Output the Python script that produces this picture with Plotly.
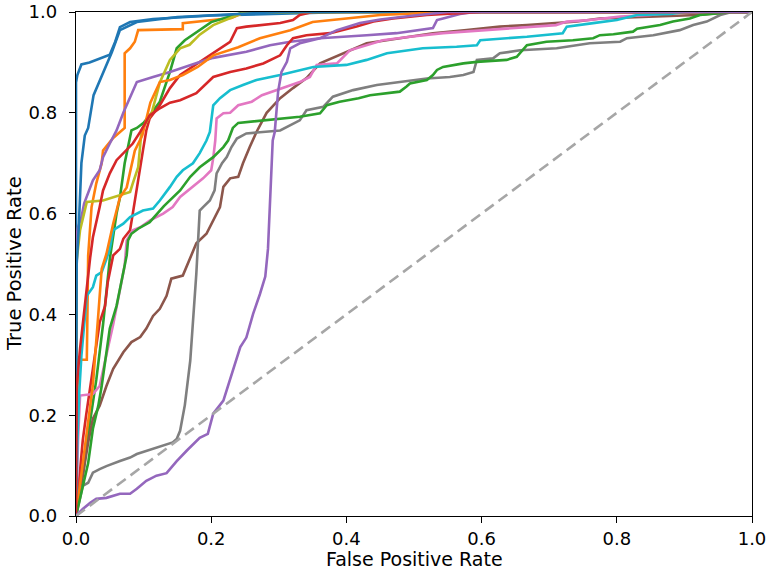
import plotly.graph_objects as go

# ---- data (FPR, TPR) ----
blue_a_fpr = [0, 0, 0.002, 0.005, 0.008, 0.02, 0.04, 0.05, 0.058, 0.065, 0.08, 0.114, 0.2, 0.4, 1.0]
blue_a_tpr = [0, 0.86, 0.875, 0.885, 0.896, 0.9, 0.909, 0.915, 0.941, 0.97, 0.98, 0.986, 0.993, 1.0, 1.0]

orange_a_fpr = [0, 0.002, 0.003, 0.016, 0.018, 0.023, 0.03, 0.038, 0.04, 0.055, 0.068, 0.072, 0.072, 0.08, 0.087, 0.092, 0.158, 0.158, 0.23, 0.25, 1.0]
orange_a_tpr = [0, 0.2, 0.31, 0.31, 0.517, 0.613, 0.66, 0.70, 0.725, 0.75, 0.765, 0.77, 0.918, 0.928, 0.941, 0.964, 0.966, 0.978, 0.988, 1.0, 1.0]

green_a_fpr = [0, 0.01, 0.02, 0.03, 0.04, 0.045, 0.05, 0.06, 0.065, 0.072, 0.082, 0.09, 0.1, 0.112, 0.124, 0.139, 0.149, 0.161, 0.18, 0.2, 0.25, 1.0]
green_a_tpr = [0, 0.08, 0.18, 0.27, 0.38, 0.45, 0.51, 0.6, 0.632, 0.70, 0.765, 0.77, 0.78, 0.80, 0.822, 0.881, 0.928, 0.944, 0.961, 0.98, 1.0, 1.0]

red_a_fpr = [0, 0.005, 0.01, 0.015, 0.021, 0.028, 0.035, 0.043, 0.047, 0.055, 0.065, 0.07, 0.08, 0.084, 0.09, 0.095, 0.099, 0.104, 0.109, 0.124, 0.139, 0.154, 0.183, 0.228, 0.238, 0.252, 0.302, 0.321, 0.331, 0.35, 1.0]
red_a_tpr = [0, 0.08, 0.15, 0.2, 0.258, 0.325, 0.384, 0.417, 0.464, 0.517, 0.53, 0.55, 0.567, 0.6, 0.653, 0.692, 0.725, 0.765, 0.789, 0.815, 0.849, 0.875, 0.901, 0.941, 0.968, 0.971, 0.978, 0.984, 0.994, 1.0, 1.0]

purple_a_fpr = [0, 0.01, 0.021, 0.03, 0.045, 0.065, 0.08, 0.09, 0.104, 0.119, 0.134, 0.149, 0.164, 0.183, 0.195, 0.203, 0.218, 0.228, 0.243, 0.252, 0.262, 0.272, 0.28, 0.284, 0.287, 0.289, 0.291, 0.294, 0.299, 0.304, 0.312, 0.317, 0.331, 0.361, 0.386, 0.42, 0.45, 0.5, 0.55, 1.0]
purple_a_tpr = [0, 0.014, 0.026, 0.034, 0.036, 0.044, 0.044, 0.054, 0.07, 0.08, 0.085, 0.109, 0.13, 0.155, 0.163, 0.203, 0.229, 0.27, 0.335, 0.354, 0.401, 0.44, 0.475, 0.53, 0.62, 0.712, 0.745, 0.762, 0.842, 0.881, 0.901, 0.928, 0.938, 0.948, 0.964, 0.978, 0.985, 0.993, 1.0, 1.0]

brown_fpr = [0, 0.003, 0.006, 0.01, 0.018, 0.025, 0.035, 0.045, 0.055, 0.07, 0.082, 0.095, 0.104, 0.114, 0.124, 0.134, 0.141, 0.158, 0.166, 0.178, 0.193, 0.203, 0.213, 0.218, 0.228, 0.24, 0.247, 0.257, 0.267, 0.282, 0.302, 0.321, 0.341, 0.361, 0.395, 0.43, 0.479, 0.528, 0.578, 0.627, 0.667, 0.741, 0.775, 0.85, 0.92, 0.97, 1.0]
brown_tpr = [0, 0.03, 0.06, 0.08, 0.146, 0.193, 0.219, 0.258, 0.292, 0.325, 0.345, 0.355, 0.372, 0.397, 0.411, 0.437, 0.471, 0.477, 0.504, 0.541, 0.56, 0.586, 0.613, 0.653, 0.67, 0.673, 0.70, 0.732, 0.762, 0.80, 0.829, 0.849, 0.869, 0.898, 0.918, 0.938, 0.948, 0.958, 0.964, 0.971, 0.974, 0.981, 0.987, 0.991, 0.994, 1.0, 1.0]

pink_fpr = [0, 0.003, 0.006, 0.025, 0.035, 0.04, 0.047, 0.055, 0.065, 0.072, 0.075, 0.084, 0.095, 0.109, 0.129, 0.143, 0.154, 0.173, 0.188, 0.2, 0.203, 0.206, 0.208, 0.218, 0.228, 0.24, 0.26, 0.275, 0.297, 0.317, 0.331, 0.346, 0.356, 0.386, 0.405, 0.454, 0.494, 0.543, 0.608, 0.676, 0.71, 0.726, 0.76, 0.805, 0.85, 0.88, 1.0]
pink_tpr = [0, 0.15, 0.239, 0.242, 0.258, 0.292, 0.332, 0.38, 0.451, 0.497, 0.547, 0.567, 0.573, 0.586, 0.6, 0.613, 0.633, 0.653, 0.67, 0.686, 0.71, 0.745, 0.789, 0.799, 0.80, 0.815, 0.822, 0.835, 0.845, 0.855, 0.861, 0.871, 0.895, 0.898, 0.924, 0.944, 0.951, 0.958, 0.964, 0.971, 0.974, 0.981, 0.984, 0.991, 0.994, 1.0, 1.0]

gray_fpr = [0, 0.01, 0.018, 0.025, 0.035, 0.045, 0.065, 0.08, 0.09, 0.104, 0.119, 0.134, 0.143, 0.149, 0.154, 0.161, 0.165, 0.169, 0.178, 0.183, 0.188, 0.198, 0.205, 0.208, 0.216, 0.223, 0.23, 0.238, 0.252, 0.277, 0.302, 0.331, 0.341, 0.366, 0.38, 0.41, 0.445, 0.479, 0.519, 0.553, 0.573, 0.588, 0.593, 0.617, 0.627, 0.657, 0.711, 0.76, 0.805, 0.815, 0.854, 0.893, 0.913, 0.933, 0.953, 0.97, 1.0]
gray_tpr = [0, 0.06, 0.066, 0.086, 0.093, 0.099, 0.109, 0.116, 0.123, 0.129, 0.136, 0.143, 0.146, 0.153, 0.169, 0.22, 0.26, 0.308, 0.481, 0.606, 0.613, 0.626, 0.646, 0.68, 0.70, 0.712, 0.732, 0.749, 0.759, 0.762, 0.765, 0.785, 0.805, 0.812, 0.832, 0.845, 0.855, 0.861, 0.868, 0.871, 0.875, 0.881, 0.905, 0.908, 0.918, 0.924, 0.928, 0.938, 0.941, 0.948, 0.954, 0.964, 0.974, 0.981, 0.994, 1.0, 1.0]

olive_fpr = [0, 0, 0.001, 0.006, 0.016, 0.04, 0.065, 0.08, 0.084, 0.092, 0.097, 0.112, 0.124, 0.132, 0.139, 0.154, 0.168, 0.183, 0.203, 0.232, 0.25, 1.0]
olive_tpr = [0, 0.45, 0.507, 0.567, 0.623, 0.626, 0.636, 0.643, 0.66, 0.692, 0.765, 0.80, 0.86, 0.885, 0.905, 0.928, 0.935, 0.955, 0.974, 0.99, 1.0, 1.0]

cyan_fpr = [0, 0.002, 0.005, 0.008, 0.016, 0.025, 0.03, 0.038, 0.045, 0.05, 0.055, 0.062, 0.07, 0.08, 0.099, 0.114, 0.124, 0.139, 0.149, 0.158, 0.173, 0.183, 0.193, 0.198, 0.203, 0.213, 0.228, 0.247, 0.267, 0.302, 0.351, 0.4, 0.43, 0.46, 0.513, 0.563, 0.593, 0.598, 0.667, 0.72, 0.726, 0.765, 0.8, 0.83, 0.88, 0.9, 1.0]
cyan_tpr = [0, 0.15, 0.25, 0.318, 0.437, 0.454, 0.477, 0.484, 0.51, 0.53, 0.567, 0.573, 0.58, 0.593, 0.606, 0.61, 0.626, 0.653, 0.673, 0.686, 0.70, 0.72, 0.745, 0.762, 0.815, 0.829, 0.845, 0.855, 0.865, 0.875, 0.891, 0.895, 0.905, 0.918, 0.928, 0.931, 0.934, 0.944, 0.951, 0.958, 0.971, 0.978, 0.984, 0.994, 0.996, 1.0, 1.0]

blue_b_fpr = [0, 0.001, 0.004, 0.006, 0.008, 0.013, 0.018, 0.026, 0.04, 0.053, 0.065, 0.09, 0.15, 0.3, 1.0]
blue_b_tpr = [0, 0.5, 0.57, 0.64, 0.70, 0.755, 0.77, 0.835, 0.88, 0.92, 0.964, 0.98, 0.99, 1.0, 1.0]

orange_b_fpr = [0, 0.01, 0.02, 0.025, 0.033, 0.038, 0.045, 0.055, 0.065, 0.075, 0.087, 0.098, 0.11, 0.124, 0.139, 0.158, 0.18, 0.203, 0.24, 0.272, 0.317, 0.35, 0.45, 0.55, 1.0]
orange_b_tpr = [0, 0.1, 0.2, 0.26, 0.40, 0.49, 0.52, 0.58, 0.632, 0.652, 0.725, 0.755, 0.82, 0.861, 0.865, 0.875, 0.891, 0.914, 0.93, 0.948, 0.964, 0.98, 0.994, 1.0, 1.0]

green_b_fpr = [0, 0.005, 0.01, 0.018, 0.025, 0.033, 0.038, 0.05, 0.06, 0.07, 0.075, 0.077, 0.082, 0.092, 0.109, 0.13, 0.154, 0.169, 0.183, 0.203, 0.218, 0.225, 0.232, 0.24, 0.331, 0.361, 0.371, 0.39, 0.418, 0.435, 0.479, 0.489, 0.494, 0.519, 0.528, 0.534, 0.543, 0.573, 0.593, 0.637, 0.652, 0.667, 0.696, 0.735, 0.765, 0.775, 0.795, 0.824, 0.83, 0.864, 0.883, 0.908, 0.923, 0.948, 0.97, 1.0]
green_b_tpr = [0, 0.03, 0.06, 0.105, 0.173, 0.219, 0.258, 0.372, 0.417, 0.484, 0.517, 0.547, 0.56, 0.57, 0.583, 0.615, 0.646, 0.673, 0.692, 0.712, 0.732, 0.745, 0.77, 0.78, 0.792, 0.799, 0.815, 0.822, 0.829, 0.835, 0.842, 0.852, 0.858, 0.865, 0.875, 0.885, 0.891, 0.898, 0.901, 0.905, 0.911, 0.934, 0.941, 0.944, 0.948, 0.954, 0.956, 0.961, 0.967, 0.974, 0.981, 0.987, 0.994, 0.997, 1.0, 1.0]

red_b_fpr = [0, 0, 0.001, 0.006, 0.01, 0.016, 0.021, 0.025, 0.03, 0.035, 0.04, 0.05, 0.06, 0.07, 0.084, 0.095, 0.109, 0.124, 0.139, 0.154, 0.178, 0.203, 0.228, 0.252, 0.277, 0.302, 0.312, 0.321, 0.341, 0.376, 0.395, 0.415, 0.44, 0.469, 0.519, 0.6, 1.0]
red_b_tpr = [0, 0.12, 0.258, 0.332, 0.384, 0.451, 0.513, 0.553, 0.58, 0.613, 0.646, 0.68, 0.706, 0.72, 0.739, 0.762, 0.795, 0.809, 0.82, 0.825, 0.839, 0.871, 0.881, 0.888, 0.898, 0.914, 0.934, 0.948, 0.954, 0.958, 0.964, 0.971, 0.981, 0.987, 0.994, 1.0, 1.0]

purple_b_fpr = [0, 0, 0.003, 0.008, 0.012, 0.018, 0.025, 0.035, 0.04, 0.05, 0.06, 0.07, 0.08, 0.09, 0.114, 0.139, 0.183, 0.203, 0.252, 0.287, 0.317, 0.361, 0.43, 0.474, 0.528, 0.534, 0.543, 0.568, 0.59, 1.0]
purple_b_tpr = [0, 0.55, 0.573, 0.593, 0.62, 0.64, 0.666, 0.686, 0.712, 0.739, 0.765, 0.80, 0.83, 0.861, 0.871, 0.881, 0.901, 0.909, 0.921, 0.934, 0.941, 0.948, 0.954, 0.958, 0.968, 0.984, 0.987, 0.996, 1.0, 1.0]

chance_fpr = [0, 1]
chance_tpr = [0, 1]

x_ticks = [0.0, 0.2, 0.4, 0.6, 0.8, 1.0]
y_ticks = [0.0, 0.2, 0.4, 0.6, 0.8, 1.0]
x_title = "False Positive Rate"
y_title = "True Positive Rate"

# ---- styling ----
curves = [
    (blue_a_fpr, blue_a_tpr, "#1f77b4"),
    (orange_a_fpr, orange_a_tpr, "#ff7f0e"),
    (green_a_fpr, green_a_tpr, "#2ca02c"),
    (red_a_fpr, red_a_tpr, "#d62728"),
    (purple_b_fpr, purple_b_tpr, "#9467bd"),
    (brown_fpr, brown_tpr, "#8c564b"),
    (pink_fpr, pink_tpr, "#e377c2"),
    (gray_fpr, gray_tpr, "#7f7f7f"),
    (olive_fpr, olive_tpr, "#bcbd22"),
    (cyan_fpr, cyan_tpr, "#17becf"),
    (blue_b_fpr, blue_b_tpr, "#1f77b4"),
    (orange_b_fpr, orange_b_tpr, "#ff7f0e"),
    (green_b_fpr, green_b_tpr, "#2ca02c"),
    (red_b_fpr, red_b_tpr, "#d62728"),
    (purple_a_fpr, purple_a_tpr, "#9467bd"),
]

fig = go.Figure()
for fx, fy, col in curves:
    assert len(fx) == len(fy)
    fig.add_trace(go.Scatter(x=fx, y=fy, mode="lines",
                             line=dict(color=col, width=2.6),
                             showlegend=False, hoverinfo="skip"))

fig.add_trace(go.Scatter(x=chance_fpr, y=chance_tpr, mode="lines",
                         line=dict(color="#a6a6a6", width=2.6, dash="11px,6px"),
                         showlegend=False, hoverinfo="skip"))

font_family = "DejaVu Sans"
axis_common = dict(
    showgrid=False, zeroline=False, automargin=False,
    showline=True, mirror=True, linecolor="black", linewidth=1.4,
    ticks="outside", ticklen=6, tickwidth=1.4, tickcolor="black",
    tickfont=dict(family=font_family, size=18, color="black"),
    tickformat=".1f",
)

fig.update_layout(
    width=771, height=575,
    margin=dict(l=76, r=19, t=12, b=59),
    paper_bgcolor="white", plot_bgcolor="white",
    font=dict(family=font_family, color="black"),
    xaxis=dict(range=[0, 1], tickvals=x_ticks, ticklabelstandoff=0, **axis_common),
    yaxis=dict(range=[0, 1], tickvals=y_ticks, ticklabelstandoff=8, **axis_common),
    annotations=[
        dict(text=x_title, xref="paper", yref="paper", x=0.5, y=0,
             xanchor="center", yanchor="middle", yshift=-43, showarrow=False,
             font=dict(family=font_family, size=19, color="black")),
        dict(text=y_title, xref="paper", yref="paper", x=0, y=0.5,
             xanchor="center", yanchor="middle", xshift=-62, textangle=-90,
             showarrow=False,
             font=dict(family=font_family, size=19.5, color="black")),
    ],
)

# remove the browser's default 8px page margin so the figure sits at the window origin
fig.write_html("out.html", config={"displayModeBar": False},
               post_script="document.body.style.margin='0';")
